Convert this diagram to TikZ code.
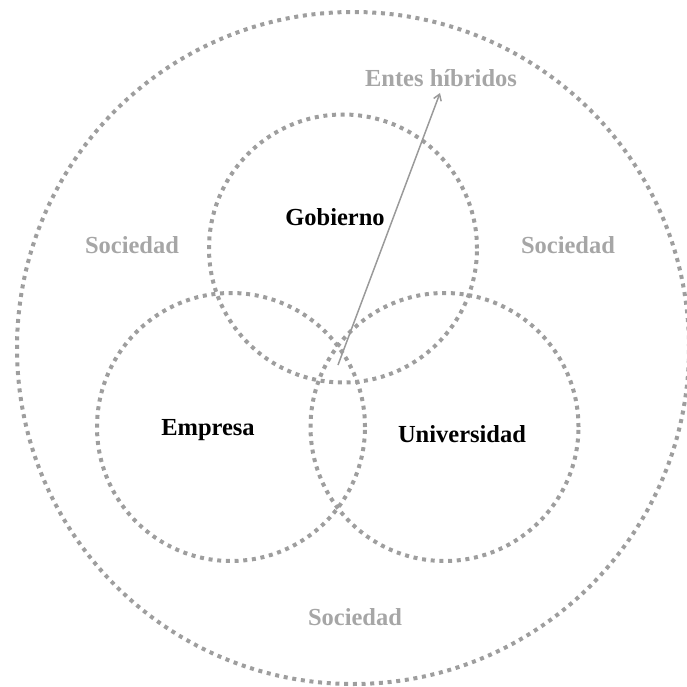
\documentclass[tikz,border=0pt]{standalone}
\usepackage{fontspec}
\setmainfont{Liberation Serif}
\usetikzlibrary{arrows.meta}
\definecolor{dotgray}{HTML}{9E9E9E}
\definecolor{txtgray}{HTML}{A6A6A6}
\definecolor{arrgray}{HTML}{9A9A9A}
\tikzset{
  ring/.style={circle, draw=dotgray, line width=4pt, dash pattern=on 4pt off 4.7pt, inner sep=0pt},
  maintxt/.style={font=\fontsize{24.5}{28}\selectfont\bfseries, text=black, inner sep=0pt},
  softtxt/.style={font=\fontsize{24.5}{28}\selectfont\bfseries, text=txtgray, inner sep=0pt},
  pointer/.style={draw=arrgray, line width=1.5pt, -{Straight Barb[length=6pt,width=8pt,line width=1.5pt]}}
}
\begin{document}
\begin{tikzpicture}[x=1pt,y=-1pt]
\useasboundingbox (0,0) rectangle (686,687);
\node[ring, minimum size=672pt] (soc) at (353,348) {};
\node[ring, minimum size=268pt] (gob) at (343,248.5) {};
\node[ring, minimum size=268pt] (emp) at (231,427) {};
\node[ring, minimum size=268pt] (uni) at (444.5,427) {};
\node[maintxt] (tgob) at (335,217) {Gobierno};
\node[maintxt] (temp) at (208,430) {Empresa};
\node[maintxt] (tuni) at (462,434) {Universidad};
\node[softtxt] (s1) at (132,245) {Sociedad};
\node[softtxt] (s2) at (568,245) {Sociedad};
\node[softtxt] (s3) at (355,617) {Sociedad};
\node[softtxt] (entes) at (441,78) {Entes híbridos};
\coordinate (hyb) at (338,365);
\coordinate (tip) at (440,93);
\draw[pointer] (hyb) -- (tip);
\end{tikzpicture}
\end{document}
